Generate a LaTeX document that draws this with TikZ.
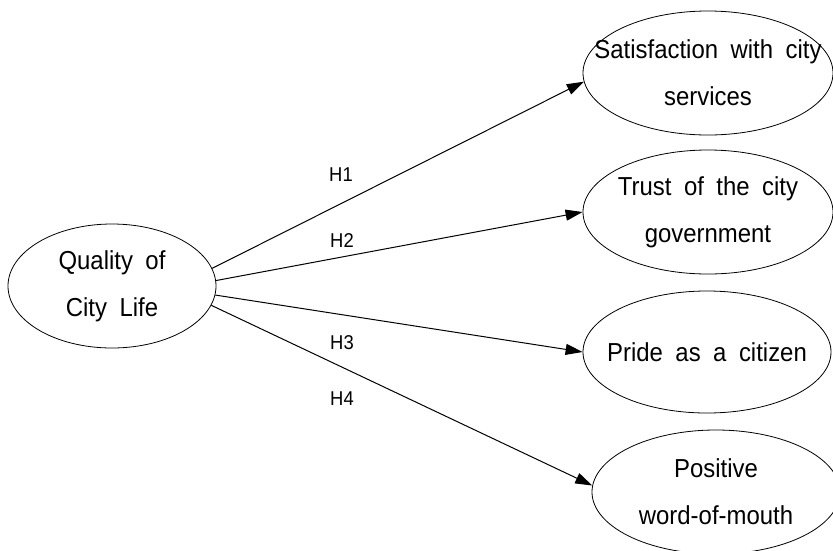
\documentclass[tikz,border=0pt]{standalone}
\usepackage{fontspec}
\setmainfont{Liberation Sans}
\newfontfamily\condfont[FakeStretch=0.92]{Liberation Sans}
\usetikzlibrary{arrows.meta,shapes.geometric}
\newcommand{\widesp}{\spaceskip=12.5pt\relax}
\tikzset{
  construct/.style={draw=black, line width=0.8pt, ellipse, inner sep=0pt,
    minimum height=124pt},
  ctext/.style={align=center, inner sep=0pt,
    font=\condfont\fontsize{26}{47}\selectfont,
    execute at begin node=\widesp},
  hyp/.style={draw=black, line width=1pt, -{Triangle[length=17pt,width=11pt]}},
  hlabel/.style={font=\condfont\fontsize{20}{22}\selectfont, inner sep=0pt}
}
\begin{document}
\begin{tikzpicture}[x=1pt,y=-1pt]
\useasboundingbox (0,0) rectangle (833,550);
\clip (0,0) rectangle (833,550);
\node[construct, minimum width=208pt] (q) at (112,286) {};
\node[ctext] (qt) at (q) {Quality of\\City Life};
\node[construct, minimum width=250pt] (s) at (708,73) {};
\node[ctext] (st) at (s) {Satisfaction with city\\services};
\node[construct, minimum width=250pt] (t) at (708,212) {};
\node[ctext] (tt) at (t) {Trust of the city\\government};
\node[construct, minimum width=248pt, minimum height=122pt] (p) at (707,352) {};
\node[ctext] (pt) at (p) {Pride as a citizen};
\node[construct, minimum width=248pt] (w) at (716,492) {};
\node[ctext] (wt) at (w) {Positive\\word-of-mouth};
\draw[hyp] (q.10) -- (s.184.6);
\draw[hyp] (q.3.3) -- (t.west);
\draw[hyp] (q.-5.4) -- (p.west);
\draw[hyp] (q.-11.9) -- (w.177.8);
\node[hlabel] (h1) at (341,175) {H1};
\node[hlabel] (h2) at (342,241) {H2};
\node[hlabel] (h3) at (342,343) {H3};
\node[hlabel] (h4) at (342,399) {H4};
\end{tikzpicture}
\end{document}
